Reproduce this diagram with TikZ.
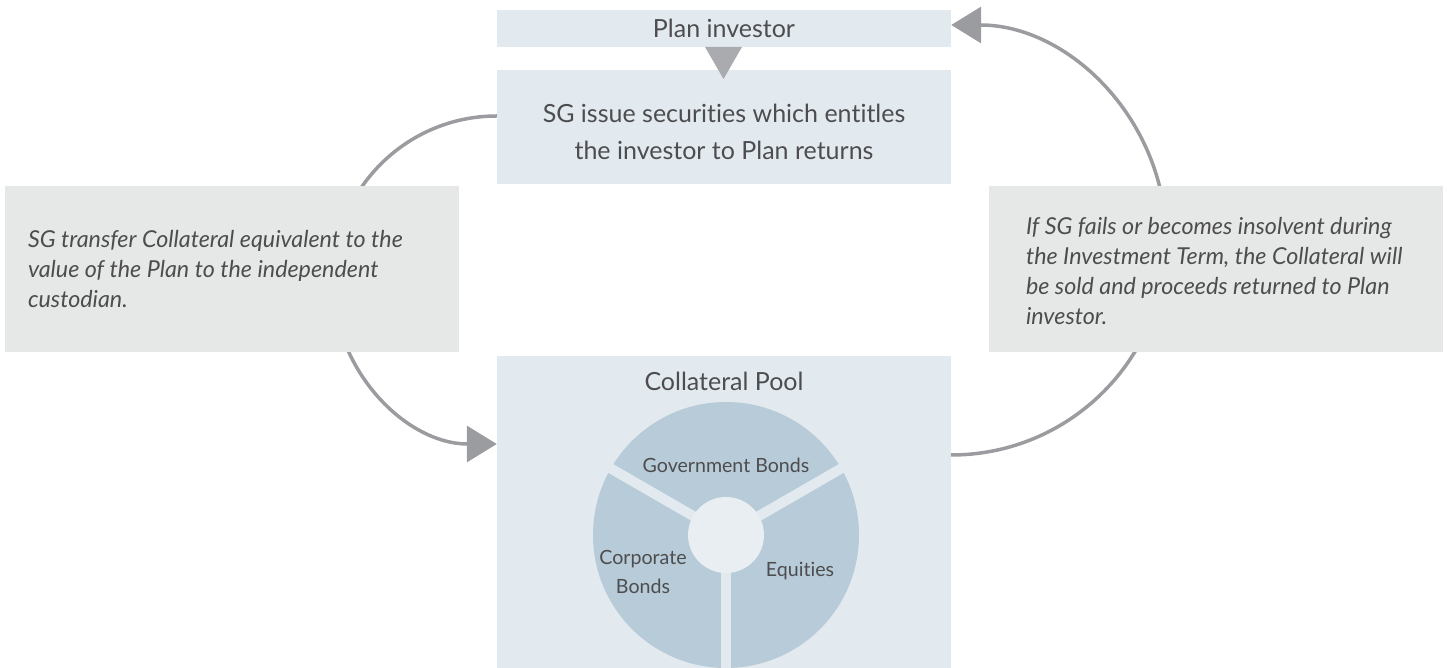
\documentclass[tikz,border=0pt]{standalone}
\usepackage{fontspec}
\setmainfont[Ligatures=NoCommon]{Lato}
\usepackage{tikz}
\usetikzlibrary{arrows.meta,backgrounds}
\definecolor{sgblue}{HTML}{E2EAF0}
\definecolor{sggrey}{HTML}{E6E7E7}
\definecolor{sgpie}{HTML}{B8CBD8}
\definecolor{sgcentre}{HTML}{E9EEF2}
\definecolor{sgline}{HTML}{9B9CA0}
\definecolor{sgtext}{HTML}{4D4D4F}
\tikzset{
  bluebox/.style={fill=sgblue,minimum width=454pt,inner sep=0pt,text=sgtext,align=center,font=\fontsize{25}{37}\selectfont},
  greybox/.style={fill=sggrey,minimum width=454pt,minimum height=166pt,inner sep=0pt},
  note/.style={anchor=west,inner sep=0pt,text=sgtext,align=left,font=\fontsize{23.3}{30}\selectfont\itshape},
  slice/.style={inner sep=0pt,text=sgtext,align=center,font=\fontsize{19.6}{29}\selectfont},
  flow/.style={draw=sgline,line width=3.5pt,-{Triangle[length=30pt,width=36pt,fill=sgline]}}
}

\begin{document}
\begin{tikzpicture}[x=1pt,y=1pt]
    \useasboundingbox (0,0) rectangle (1450,668);

    \node [bluebox,minimum height=37pt] (investor) at (724,639.5) {Plan investor};
    \node [bluebox,minimum height=114pt] (issue) at (724,541) {};
    \node [inner sep=0pt,text=sgtext,align=center,font=\fontsize{25}{37}\selectfont] (issuetext) at (724,536) {SG issue securities which entitles\\the investor to Plan returns};
    \node [bluebox,minimum height=312pt] (pool) at (724,156) {};
    \fill [sgline!85!white] (705,621) -- (742,621) -- (723.5,589) -- cycle;

    \node [greybox] (transfer) at (232,399) {};
    \node [note] (transfertext) at ([xshift=23pt]transfer.west) {SG transfer Collateral equivalent to the\\value of the Plan to the independent\\custodian.};
    \node [greybox] (default) at (1216,399) {};
    \node [note] (defaulttext) at ([xshift=37pt,yshift=-2pt]default.west) {If SG fails or becomes insolvent during\\the Investment Term, the Collateral will\\be sold and proceeds returned to Plan\\investor.};

    % collateral pie
    \fill [sgpie] (726,133) circle (133);
    \foreach \a in {30,150,270}
      \draw [sgblue,line width=10pt] (726,133) -- ++(\a:134);
    \fill [sgcentre] (726,133) circle (38);
    \node [slice,font=\fontsize{25}{29}\selectfont] (pooltitle) at (724,287) {Collateral Pool};
    \node [slice] (gov) at (726,203) {Government Bonds};
    \node [slice] (corp) at (643,96) {Corporate\\Bonds};
    \node [slice] (equ) at (800,97) {Equities};

    \begin{scope}[on background layer]
    \draw [flow] ([yshift=11pt]issue.west) arc [start angle=90,end angle=270,radius=164];
    \draw [flow] ([yshift=57pt]pool.east) arc [start angle=-90,end angle=90,radius=215];
    \end{scope}
\end{tikzpicture}
\end{document}
